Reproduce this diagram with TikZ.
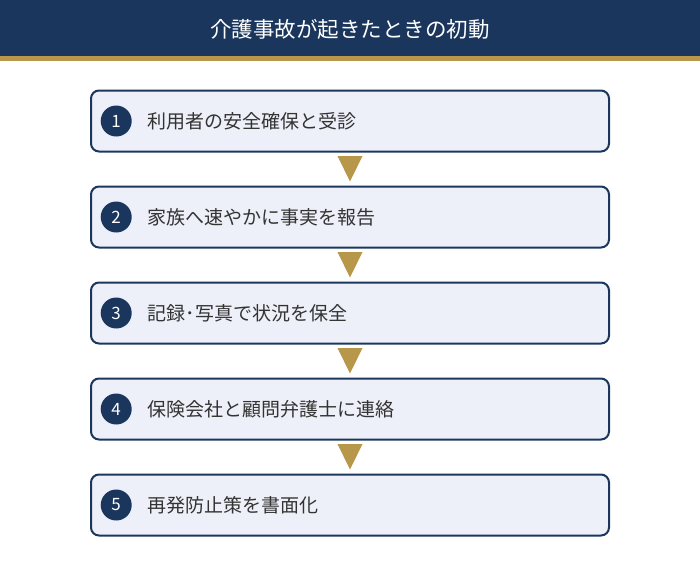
\documentclass[tikz,border=0pt]{standalone}
\usepackage{fontspec}
\setmainfont{Noto Sans CJK JP}
\usetikzlibrary{positioning}
\definecolor{navy}{HTML}{1A365D}
\definecolor{gold}{HTML}{B8964A}
\definecolor{boxfill}{HTML}{EDF0F8}
\definecolor{txt}{HTML}{333333}

\begin{document}
\begin{tikzpicture}[x=1pt, y=1pt,
every node/.style={inner sep=0pt},
stepbox/.style={draw=navy, line width=2pt, fill=boxfill, rounded corners=8pt,
    minimum width=518pt, minimum height=61pt},
num/.style={circle, fill=navy, text=white, minimum size=31pt,
    font=\fontsize{17}{17}\selectfont},
steptext/.style={anchor=west, text=txt, font=\fontsize{19}{19}\selectfont}
]
\useasboundingbox (0,0) rectangle (700,-566);

% header
\fill[navy] (0,0) rectangle (700,-56);
\fill[gold] (0,-56) rectangle (700,-61);
\node[text=white, font=\fontsize{21.5}{21.5}\selectfont] (title) at (350,-29) {介護事故が起きたときの初動};

\foreach \n/\t in {1/利用者の安全確保と受診, 2/家族へ速やかに事実を報告,%
                   3/記録･写真で状況を保全, 4/保険会社と顧問弁護士に連絡,%
                   5/再発防止策を書面化}
{
    \node[stepbox] (s\n) at (350,{-121-96*(\n-1)}) {};
    \node[num, right=10.5pt of s\n.west] (c\n) {\n};
    \node[steptext, right=15.5pt of c\n] (t\n) {\t};
}

%\draw[gold] (s1) -- (s2);
\foreach \n/\m in {1/2, 2/3, 3/4, 4/5}
    \fill[gold] ([xshift=-12.5pt, yshift=-3.5pt]s\n.south)
        -- ([xshift=12.5pt, yshift=-3.5pt]s\n.south)
        -- ([yshift=4pt]s\m.north) -- cycle;
\end{tikzpicture}
\end{document}
